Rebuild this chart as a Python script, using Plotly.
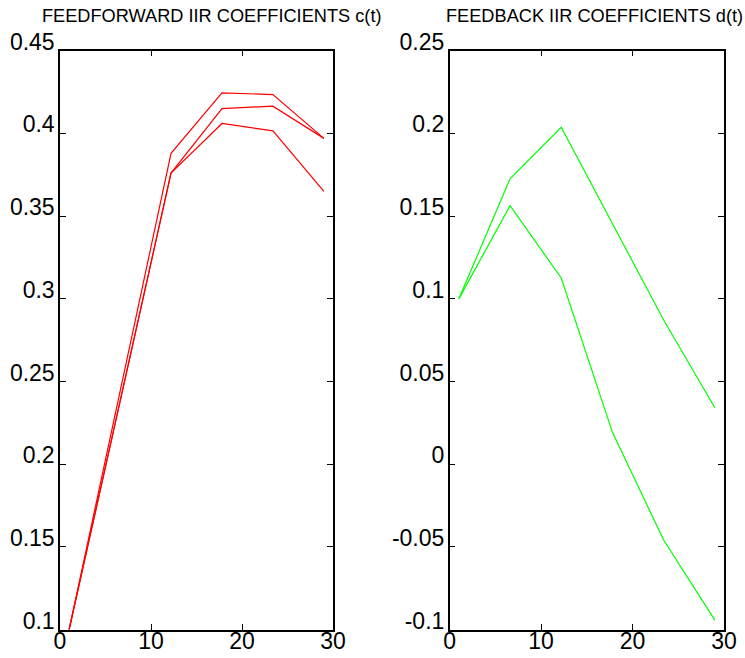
import plotly.graph_objects as go

# sample positions shared by every coefficient track
t_steps = [1, 6.6, 12.2, 17.8, 23.4, 29]

# feedforward coefficients c(t)
c_track_1 = [0.1, 0.244, 0.388, 0.4245, 0.4235, 0.397]
c_track_2 = [0.1, 0.238, 0.376, 0.415, 0.4165, 0.397]
c_track_3 = [0.1, 0.238, 0.376, 0.406, 0.4015, 0.365]

# feedback coefficients d(t)
d_track_1 = [0.1, 0.1726, 0.2037, 0.1455, 0.0872, 0.0342]
d_track_2 = [0.1, 0.1563, 0.1126, 0.0193, -0.0458, -0.0942]

x_ticks = [0, 10, 20, 30]
c_ticks = [0.1, 0.15, 0.2, 0.25, 0.3, 0.35, 0.4, 0.45]
c_tick_text = ["0.1", "0.15", "0.2", "0.25", "0.3", "0.35", "0.4", "0.45"]
d_ticks = [-0.1, -0.05, 0, 0.05, 0.1, 0.15, 0.2, 0.25]
d_tick_text = ["-0.1", "-0.05", "0", "0.05", "0.1", "0.15", "0.2", "0.25"]

W, H = 745, 658
FONT = "Liberation Sans, Arial, sans-serif"

fig = go.Figure()

for ys in (c_track_1, c_track_2, c_track_3):
    fig.add_trace(go.Scatter(x=t_steps, y=ys, mode="lines",
                             line=dict(color="#ff0000", width=1.2),
                             xaxis="x", yaxis="y", showlegend=False))

for ys in (d_track_1, d_track_2):
    fig.add_trace(go.Scatter(x=t_steps, y=ys, mode="lines",
                             line=dict(color="#00ff00", width=1.2),
                             xaxis="x2", yaxis="y2", showlegend=False))

y_dom = [1 - 629.7 / H, 1 - 50.7 / H]

axis_common = dict(
    showgrid=False, zeroline=False, showline=True, mirror="ticks",
    linecolor="black", linewidth=1.5,
    ticks="inside", ticklen=6, tickwidth=1, tickcolor="black",
    tickfont=dict(family=FONT, size=23, color="black"),
    automargin=False,
)

fig.update_layout(
    width=W, height=H,
    margin=dict(l=0, r=0, t=0, b=0),
    paper_bgcolor="white", plot_bgcolor="white",
    xaxis=dict(domain=[60 / W, 333 / W], range=[0, 30],
               tickvals=x_ticks, ticklabelstandoff=-10, anchor="y", **axis_common),
    yaxis=dict(domain=y_dom, range=[0.1, 0.45],
               tickvals=c_ticks, ticktext=c_tick_text,
               ticklabelshift=-9, ticklabelstandoff=-1, anchor="x", **axis_common),
    xaxis2=dict(domain=[449.7 / W, 724 / W], range=[0, 30],
                tickvals=x_ticks, ticklabelstandoff=-10, anchor="y2", **axis_common),
    yaxis2=dict(domain=y_dom, range=[-0.1, 0.25],
                tickvals=d_ticks, ticktext=d_tick_text,
                ticklabelshift=-9, ticklabelstandoff=-1, anchor="x2", **axis_common),
    annotations=[
        dict(text="FEEDFORWARD IIR COEFFICIENTS c(t)", x=211.5 / W, y=1 - 16 / H,
             xref="paper", yref="paper", xanchor="center", yanchor="middle",
             showarrow=False, font=dict(family=FONT, size=18.2, color="black")),
        dict(text="FEEDBACK IIR COEFFICIENTS d(t)", x=594 / W, y=1 - 16 / H,
             xref="paper", yref="paper", xanchor="center", yanchor="middle",
             showarrow=False, font=dict(family=FONT, size=18.2, color="black")),
    ],
)

fig.write_html("out.html")
